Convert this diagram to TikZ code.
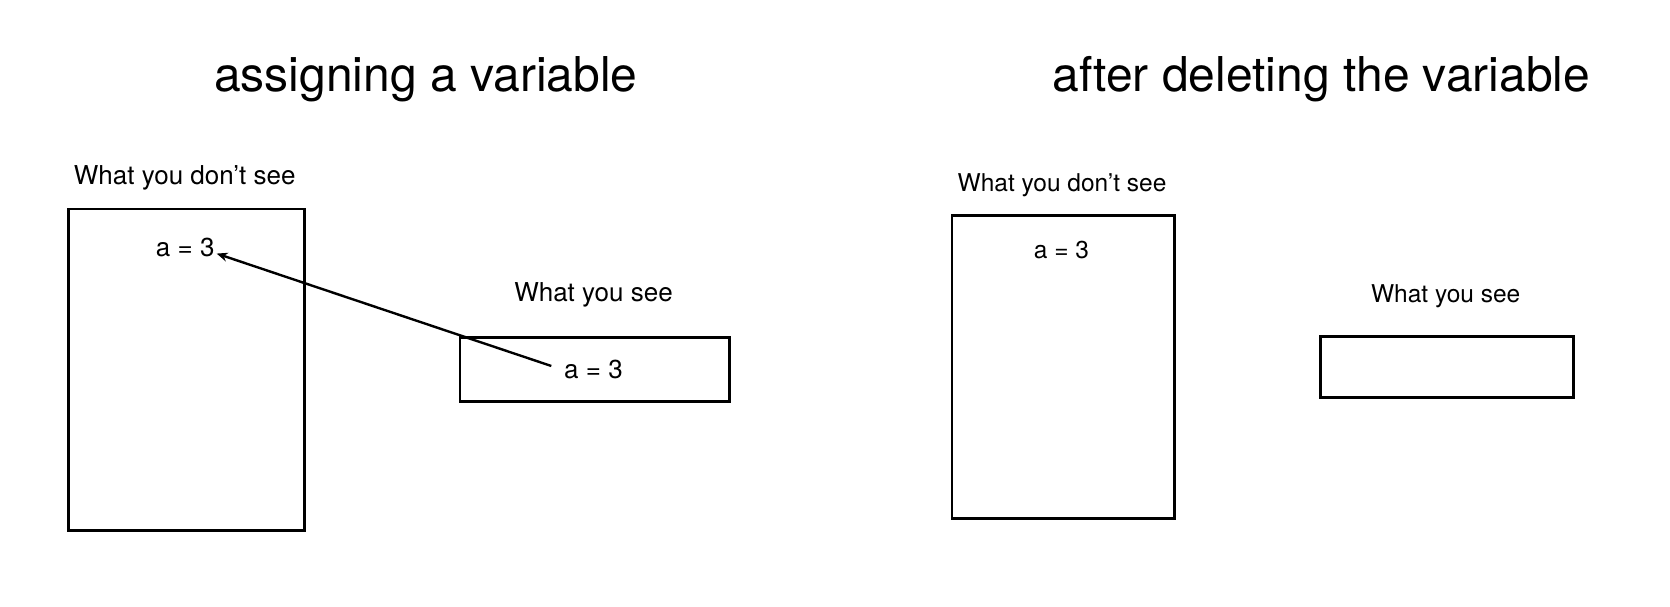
\documentclass[tikz,border=0pt]{standalone}
\usepackage{fontspec}
\setmainfont{TeX Gyre Heros}
\usetikzlibrary{arrows.meta}
\begin{document}
\begin{tikzpicture}[x=1pt,y=-1pt,
  box/.style={draw=black, line width=2.6pt, inner sep=0pt, anchor=north west},
  title/.style={font=\fontsize{48}{58}\selectfont, anchor=base, inner sep=0pt},
  lblL/.style={font=\fontsize{26}{31}\selectfont, anchor=base, inner sep=0pt},
  lblR/.style={font=\fontsize{24.5}{29}\selectfont, anchor=base, inner sep=0pt},
  link/.style={line width=2.4pt, -{Stealth[length=11pt,width=9pt]}}]
\useasboundingbox (0,0) rectangle (1670,606);
% titles
\node[title] (t1) at (425.8,91.5) {assigning a variable};
\node[title] (t2) at (1321.2,91.5) {after deleting the variable};
% left panel
\node[box, minimum width=236.3pt, minimum height=321.5pt] (L1) at (67.1,207.6) {};
\node[box, minimum width=269.4pt, minimum height=63.9pt] (L2) at (458.8,336.4) {};
\node[lblL] (l1) at (184.7,184) {What you don’t see};
\node[lblL] (a1) at (185.2,256.6) {a = 3};
\node[lblL] (l2) at (593.5,301.3) {What you see};
\node[lblL] (a2) at (593.5,378) {a = 3};
\draw[link] ([xshift=-12.7pt,yshift=3pt]a2.west) -- ([xshift=2pt,yshift=-6pt]a1.east);
% right panel
\node[box, minimum width=222.5pt, minimum height=303.4pt] (R1) at (950.7,214) {};
\node[box, minimum width=253.4pt, minimum height=60.6pt] (R2) at (1319,335.4) {};
\node[lblR] (r1) at (1062,191.5) {What you don’t see};
\node[lblR] (b1) at (1061.4,258) {a = 3};
\node[lblR] (r2) at (1445.7,302.3) {What you see};
\end{tikzpicture}
\end{document}
